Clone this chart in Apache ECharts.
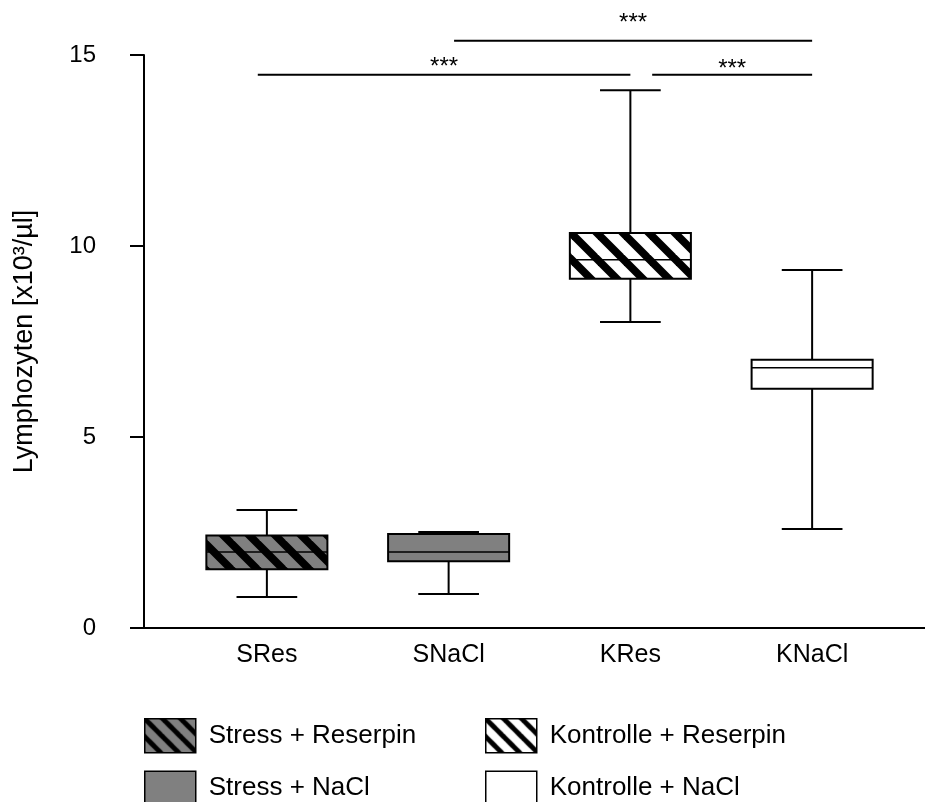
<!DOCTYPE html>
<html>
<head>
<meta charset="utf-8">
<script src="https://cdn.jsdelivr.net/npm/echarts@6/dist/echarts.min.js"></script>
<style>
  html, body { margin: 0; padding: 0; background: #ffffff; }
  #chart { width: 925px; height: 802px; }
</style>
</head>
<body>
<div id="chart"></div>
<script>
// Groups on the x axis and their legend names
const categories = ['SRes', 'SNaCl', 'KRes', 'KNaCl'];
const groupNames = ['Stress + Reserpin', 'Stress + NaCl', 'Kontrolle + Reserpin', 'Kontrolle + NaCl'];

// Box summaries: [min, Q1, median, Q3, max] in x10^3/µl
const sResBox = [0.81, 1.54, 1.99, 2.42, 3.09];
const sNaClBox = [0.89, 1.75, 1.99, 2.46, 2.51];
const kResBox = [8.01, 9.14, 9.64, 10.34, 14.08];
const kNaClBox = [2.59, 6.26, 6.81, 7.02, 9.37];

// Y axis ticks
const yTicks = [0, 5, 10, 15];

// Significance brackets (x in category units, heights in y units)
const sigFrom = [-0.05, 2.12, 1.03];
const sigTo = [2.0, 3.0, 3.0];
const sigLevel = [14.48, 14.48, 15.37];
const sigLabelLevel = [14.79, 14.74, 15.92];
const sigText = ['***', '***', '***'];

const FONT = "'Liberation Sans', Arial, Helvetica, sans-serif";
const GRAY = '#808080';

// Diagonal "\" hatch tile: black bands over a background colour
function hatch(bg, period, band) {
  const c = document.createElement('canvas');
  c.width = period; c.height = period;
  const g = c.getContext('2d');
  g.fillStyle = bg;
  g.fillRect(0, 0, period, period);
  g.fillStyle = '#000000';
  [-period, 0, period].forEach(function (k) {
    g.beginPath();
    g.moveTo(k - band / 2, 0);
    g.lineTo(k + band / 2, 0);
    g.lineTo(k + band / 2 + period, period);
    g.lineTo(k - band / 2 + period, period);
    g.closePath();
    g.fill();
  });
  return { image: c, repeat: 'repeat' };
}

const boxFills = [hatch(GRAY, 26, 11), GRAY, hatch('#ffffff', 26, 11), '#ffffff'];
const legendFills = [hatch(GRAY, 18, 7), GRAY, hatch('#ffffff', 18, 7), '#ffffff'];
const boxes = [sResBox, sNaClBox, kResBox, kNaClBox];

function renderBox(params, api) {
  const x = api.value(0);
  const lo = api.coord([x, api.value(1)]);
  const q1 = api.coord([x, api.value(2)]);
  const med = api.coord([x, api.value(3)]);
  const q3 = api.coord([x, api.value(4)]);
  const hi = api.coord([x, api.value(5)]);
  const band = api.size([1, 0])[0];
  const half = band * 0.333;
  const cap = band * 0.167;
  const cx = lo[0];
  const line = { stroke: '#000000', lineWidth: 2 };
  return {
    type: 'group',
    children: [
      { type: 'line', shape: { x1: cx, y1: hi[1], x2: cx, y2: q3[1] }, style: line },
      { type: 'line', shape: { x1: cx, y1: q1[1], x2: cx, y2: lo[1] }, style: line },
      { type: 'line', shape: { x1: cx - cap, y1: hi[1], x2: cx + cap, y2: hi[1] }, style: line },
      { type: 'line', shape: { x1: cx - cap, y1: lo[1], x2: cx + cap, y2: lo[1] }, style: line },
      {
        type: 'rect',
        shape: { x: cx - half, y: q3[1], width: half * 2, height: q1[1] - q3[1] },
        style: { fill: api.visual('color'), stroke: '#000000', lineWidth: 2 }
      },
      { type: 'line', shape: { x1: cx - half, y1: med[1], x2: cx + half, y2: med[1] }, style: { stroke: '#000000', lineWidth: 1.5 } }
    ]
  };
}

function renderSig(params, api) {
  const a = api.coord([api.value(0), api.value(2)]);
  const b = api.coord([api.value(1), api.value(2)]);
  const t = api.coord([(api.value(0) + api.value(1)) / 2, api.value(3)]);
  return {
    type: 'group',
    children: [
      { type: 'line', shape: { x1: a[0], y1: a[1], x2: b[0], y2: b[1] }, style: { stroke: '#000000', lineWidth: 2 } },
      {
        type: 'text',
        x: t[0], y: t[1] + 4,
        style: { text: sigText[params.dataIndex], fill: '#000000', font: '24px ' + FONT, align: 'center', verticalAlign: 'middle' }
      }
    ]
  };
}

const boxSeries = boxes.map(function (b, i) {
  return {
    name: groupNames[i],
    type: 'custom',
    xAxisIndex: 1,
    yAxisIndex: 1,
    renderItem: renderBox,
    itemStyle: { color: boxFills[i], borderColor: '#000000' },
    encode: { x: 0, y: [1, 2, 3, 4, 5] },
    data: [[i].concat(b)],
    silent: true
  };
});

const sigSeries = {
  type: 'custom',
  xAxisIndex: 2,
  yAxisIndex: 1,
  renderItem: renderSig,
  encode: { x: [0, 1], y: [2, 3] },
  data: sigFrom.map(function (f, i) { return [f, sigTo[i], sigLevel[i], sigLabelLevel[i]]; }),
  silent: true
};

function legendBlock(left, names) {
  return {
    orient: 'vertical',
    left: left,
    top: 713,
    height: 140,
    icon: 'rect',
    itemWidth: 51,
    itemHeight: 34,
    itemGap: 17,
    selectedMode: false,
    itemStyle: { borderColor: '#000000', borderWidth: 1.5 },
    textStyle: { fontFamily: FONT, fontSize: 26, color: '#000000', padding: [0, 0, 0, 8] },
    data: names.map(function (n) {
      return { name: n, itemStyle: { color: legendFills[groupNames.indexOf(n)] } };
    })
  };
}

const chart = echarts.init(document.getElementById('chart'), null, { renderer: 'canvas' });
chart.setOption({
  animation: false,
  backgroundColor: '#ffffff',
  textStyle: { fontFamily: FONT },
  grid: [
    { left: 144, right: 0, top: 55, bottom: 174 },
    { left: 176, right: 22, top: 55, bottom: 174 }
  ],
  legend: [
    legendBlock(139, [groupNames[0], groupNames[1]]),
    legendBlock(480, [groupNames[2], groupNames[3]])
  ],
  xAxis: [
    {
      gridIndex: 0, type: 'value', min: 0, max: 1,
      axisLine: { show: true, lineStyle: { color: '#000000', width: 2 } },
      axisTick: { show: false }, axisLabel: { show: false }, splitLine: { show: false }
    },
    {
      gridIndex: 1, type: 'category', data: categories, boundaryGap: true,
      axisLine: { show: false }, axisTick: { show: false }, splitLine: { show: false },
      axisLabel: { color: '#000000', fontSize: 25, fontFamily: FONT, margin: 15 }
    },
    {
      gridIndex: 1, type: 'value', min: -0.5, max: 3.5, show: false
    }
  ],
  yAxis: [
    {
      gridIndex: 0, type: 'value',
      min: yTicks[0], max: yTicks[yTicks.length - 1], interval: yTicks[1] - yTicks[0],
      name: 'Lymphozyten [x10³/µl]', nameLocation: 'middle', nameGap: 106,
      nameTextStyle: { color: '#000000', fontSize: 27, fontFamily: FONT },
      axisLine: { show: true, lineStyle: { color: '#000000', width: 2 } },
      axisTick: { show: true, inside: false, length: 14, lineStyle: { color: '#000000', width: 2 } },
      axisLabel: { color: '#000000', fontSize: 24, fontFamily: FONT, margin: 48 },
      splitLine: { show: false }
    },
    {
      gridIndex: 1, type: 'value',
      min: yTicks[0], max: yTicks[yTicks.length - 1], show: false
    }
  ],
  series: boxSeries.concat([sigSeries])
});
</script>
</body>
</html>
